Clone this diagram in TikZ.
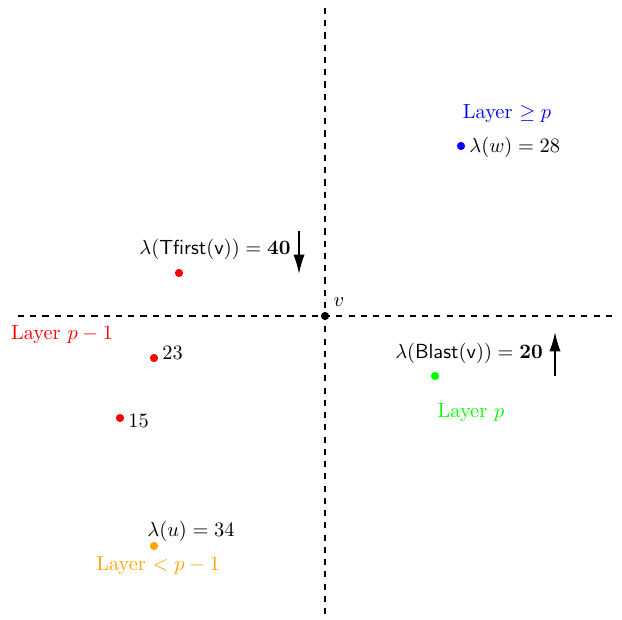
\documentclass[tikz,border=0pt]{standalone}
\usetikzlibrary{arrows.meta}
\definecolor{lorange}{RGB}{255,165,0}
\begin{document}
\begin{tikzpicture}[x=0.49pt,y=-0.49pt,
  axis/.style={dashed,thick},
  pt/.style={circle,fill,inner sep=0pt,minimum size=4pt},
  lbl/.style={inner sep=1pt},
  bigarrow/.style={thick,-{Latex[length=9.5pt,width=5.5pt]}}]
\useasboundingbox (0,0) rectangle (622,619);
% axes
\coordinate (hl) at (18,316);
\coordinate (hr) at (615,316);
\coordinate (vt) at (325,8);
\coordinate (vb) at (325,618);
\draw[axis] (hl) -- (hr);
\draw[axis] (vt) -- (vb);
% v
\node[pt,black] (v) at (325,316) {};
\node[lbl] (vlabel) at (339,302) {$v$};
% Tfirst
\node[pt,red] (tf) at (179,273) {};
\node[lbl] (tflabel) at (215,249) {$\lambda(\mathsf{Tfirst}(\mathsf{v})) = \mathbf{40}$};
\coordinate (a1s) at (299,231);
\coordinate (a1e) at (299,274);
\draw[bigarrow] (a1s) -- (a1e);
% layer p-1
\node[lbl,red] (lpm1) at (62,335) {Layer $p-1$};
\node[pt,red] (r23) at (154,358) {};
\node[lbl,anchor=west] (l23) at (160,353) {$23$};
\node[pt,red] (r15) at (120,418) {};
\node[lbl,anchor=west] (l15) at (126,421) {$15$};
% u
\node[pt,lorange] (u) at (154,546) {};
\node[lbl] (ulabel) at (191,531) {$\lambda(u) = 34$};
\node[lbl,lorange] (lless) at (158,566) {Layer $< p-1$};
% w
\node[lbl,blue] (lgeq) at (507,114) {Layer $\geq p$};
\node[pt,blue] (w) at (461,146) {};
\node[lbl,anchor=west] (wlabel) at (467,147) {$\lambda(w) = 28$};
% Blast
\node[pt,green] (bl) at (435,376) {};
\node[lbl] (bllabel) at (469,353) {$\lambda(\mathsf{Blast}(\mathsf{v})) = \mathbf{20}$};
\coordinate (a2s) at (555,376);
\coordinate (a2e) at (555,332);
\draw[bigarrow] (a2s) -- (a2e);
\node[lbl,green] (lp) at (471,413) {Layer $p$};
\end{tikzpicture}
\end{document}
